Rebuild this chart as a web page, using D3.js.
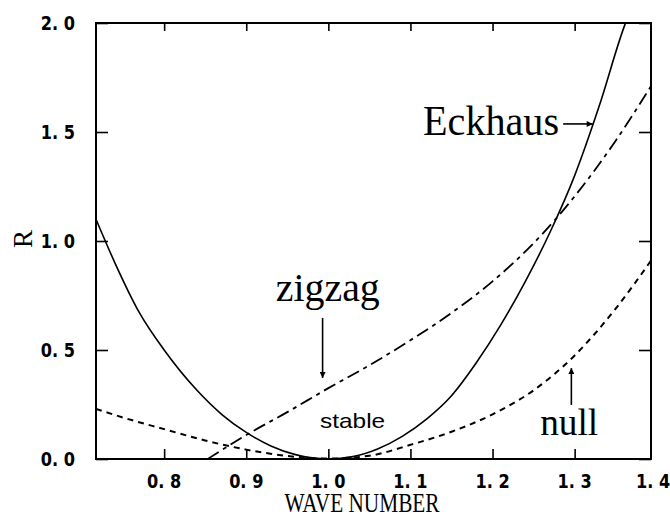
<!DOCTYPE html>
<html>
<head>
<meta charset="utf-8">
<script src="https://cdn.jsdelivr.net/npm/d3@7"></script>
<style>
  html, body { margin: 0; padding: 0; background: #fff; }
  svg { display: block; }
</style>
</head>
<body>
<svg id="chart" width="670" height="516"></svg>
<script>
// ---- data ----
const eckhausK = [0.717, 0.740, 0.770, 0.800, 0.840, 0.870, 0.900, 0.930, 0.960, 1.000, 1.030, 1.060, 1.090, 1.120, 1.150, 1.180, 1.210, 1.240, 1.270, 1.300, 1.330, 1.360, 1.366];
const eckhausR = [1.10, 0.90, 0.67, 0.50, 0.315, 0.205, 0.122, 0.060, 0.020, 0.0, 0.011, 0.046, 0.104, 0.184, 0.29, 0.44, 0.615, 0.815, 1.04, 1.30, 1.62, 1.98, 2.04];

const zigzagK = [0.853, 0.900, 0.950, 1.000, 1.050, 1.100, 1.150, 1.200, 1.250, 1.300, 1.350, 1.393];
const zigzagR = [0.0, 0.11, 0.215, 0.325, 0.43, 0.545, 0.67, 0.815, 0.99, 1.205, 1.46, 1.71];

const nullK = [0.717, 0.750, 0.800, 0.850, 0.900, 0.950, 1.000, 1.050, 1.100, 1.150, 1.200, 1.250, 1.300, 1.350, 1.393];
const nullR = [0.23, 0.19, 0.137, 0.085, 0.043, 0.014, 0.002, 0.015, 0.065, 0.125, 0.205, 0.315, 0.475, 0.69, 0.91];

const xTicks = [0.8, 0.9, 1.0, 1.1, 1.2, 1.3];
const xTickLabels = [0.8, 0.9, 1.0, 1.1, 1.2, 1.3, 1.4];
const yTicks = [0.0, 0.5, 1.0, 1.5, 2.0];
const xDomain = [0.717, 1.393];
const yDomain = [0, 2.0];

(function () {
// ---- layout ----
const pLeft = 96, pRight = 651, pTop = 23, pBottom = 459;
const svg = d3.select("#chart");
const x = d3.scaleLinear().domain(xDomain).range([pLeft, pRight]);
const y = d3.scaleLinear().domain(yDomain).range([pBottom, pTop]);
const fmt = d => d3.format(".1f")(d).replace(".", ". ");

const defs = svg.append("defs");
defs.append("clipPath").attr("id", "plot")
  .append("rect").attr("x", pLeft).attr("y", pTop)
  .attr("width", pRight - pLeft).attr("height", pBottom - pTop);
defs.append("marker").attr("id", "arrow")
  .attr("viewBox", "0 0 10 10").attr("refX", 10).attr("refY", 5)
  .attr("markerWidth", 9).attr("markerHeight", 6).attr("markerUnits", "userSpaceOnUse")
  .attr("orient", "auto")
  .append("path").attr("d", "M0,0 L10,5 L0,10 Z").attr("fill", "#000");

// ---- axes (inward ticks on all four sides) ----
svg.append("g").attr("transform", `translate(0,${pBottom})`)
  .call(d3.axisBottom(x).tickValues(xTicks).tickSize(-10).tickFormat(""));
svg.append("g").attr("transform", `translate(0,${pTop})`)
  .call(d3.axisTop(x).tickValues(xTicks).tickSize(-8).tickFormat(""));
svg.append("g").attr("transform", `translate(${pLeft},0)`)
  .call(d3.axisLeft(y).tickValues(yTicks).tickSize(-12).tickFormat(""));
svg.append("g").attr("transform", `translate(${pRight},0)`)
  .call(d3.axisRight(y).tickValues(yTicks).tickSize(-12).tickFormat(""));
svg.selectAll(".domain").remove();
svg.selectAll(".tick line").attr("stroke", "#000").attr("stroke-width", 1.6);

// frame
svg.append("rect").attr("x", pLeft).attr("y", pTop)
  .attr("width", pRight - pLeft).attr("height", pBottom - pTop)
  .attr("fill", "none").attr("stroke", "#000").attr("stroke-width", 2);

// tick labels (bold, condensed look)
const tickFont = "'DejaVu Sans', sans-serif";
svg.append("g").selectAll("g").data(xTickLabels).join("g")
  .attr("transform", d => `translate(${Math.min(x(d), 653)},488) scale(0.85,1)`)
  .append("text")
  .attr("text-anchor", "middle")
  .attr("font-family", tickFont).attr("font-weight", "bold").attr("font-size", 19)
  .text(fmt);
svg.append("g").selectAll("g").data(yTicks).join("g")
  .attr("transform", d => `translate(75,${y(d) + 7}) scale(0.85,1)`)
  .append("text")
  .attr("text-anchor", "end")
  .attr("font-family", tickFont).attr("font-weight", "bold").attr("font-size", 19)
  .text(fmt);

// axis titles
svg.append("g").attr("transform", "translate(362,512) scale(0.76,1)")
  .append("text").attr("text-anchor", "middle")
  .attr("font-family", "'Liberation Serif', serif").attr("font-size", 28)
  .text("WAVE NUMBER");
svg.append("text").attr("transform", "translate(32,239) rotate(-90)")
  .attr("text-anchor", "middle")
  .attr("font-family", "'Liberation Serif', serif").attr("font-size", 27)
  .text("R");

// ---- curves ----
const line = d3.line().x(d => x(d[0])).y(d => y(d[1])).curve(d3.curveMonotoneX);
const plot = svg.append("g").attr("clip-path", "url(#plot)");
plot.append("path").datum(d3.zip(eckhausK, eckhausR))
  .attr("d", line).attr("fill", "none").attr("stroke", "#000").attr("stroke-width", 1.6);
plot.append("path").datum(d3.zip(zigzagK, zigzagR))
  .attr("d", line).attr("fill", "none").attr("stroke", "#000").attr("stroke-width", 1.8)
  .attr("stroke-dasharray", "13,5,4,5");
plot.append("path").datum(d3.zip(nullK, nullR))
  .attr("d", line).attr("fill", "none").attr("stroke", "#000").attr("stroke-width", 2)
  .attr("stroke-dasharray", "6,5");

// ---- annotations (in data coordinates) ----
const serif = "'Liberation Serif', serif";
svg.append("text").attr("x", x(1.281)).attr("y", y(1.486)).attr("text-anchor", "end")
  .attr("font-family", serif).attr("font-size", 43)
  .attr("textLength", 136).attr("lengthAdjust", "spacingAndGlyphs").text("Eckhaus");
svg.append("line").attr("x1", x(1.286)).attr("x2", x(1.322))
  .attr("y1", y(1.537)).attr("y2", y(1.537))
  .attr("stroke", "#000").attr("stroke-width", 1.6).attr("marker-end", "url(#arrow)");

svg.append("text").attr("x", x(0.936)).attr("y", y(0.724))
  .attr("font-family", serif).attr("font-size", 40)
  .attr("textLength", 104).attr("lengthAdjust", "spacingAndGlyphs").text("zigzag");
svg.append("line").attr("x1", x(0.993)).attr("x2", x(0.993))
  .attr("y1", y(0.647)).attr("y2", y(0.372))
  .attr("stroke", "#000").attr("stroke-width", 1.6).attr("marker-end", "url(#arrow)");

svg.append("text").attr("x", x(0.990)).attr("y", y(0.142))
  .attr("font-family", "'Liberation Sans', sans-serif").attr("font-size", 21)
  .attr("textLength", 65).attr("lengthAdjust", "spacingAndGlyphs").text("stable");

svg.append("text").attr("x", x(1.258)).attr("y", y(0.11))
  .attr("font-family", serif).attr("font-size", 38)
  .attr("textLength", 58).attr("lengthAdjust", "spacingAndGlyphs").text("null");
svg.append("line").attr("x1", x(1.296)).attr("x2", x(1.296))
  .attr("y1", y(0.248)).attr("y2", y(0.417))
  .attr("stroke", "#000").attr("stroke-width", 1.6).attr("marker-end", "url(#arrow)");
})();
</script>
</body>
</html>
